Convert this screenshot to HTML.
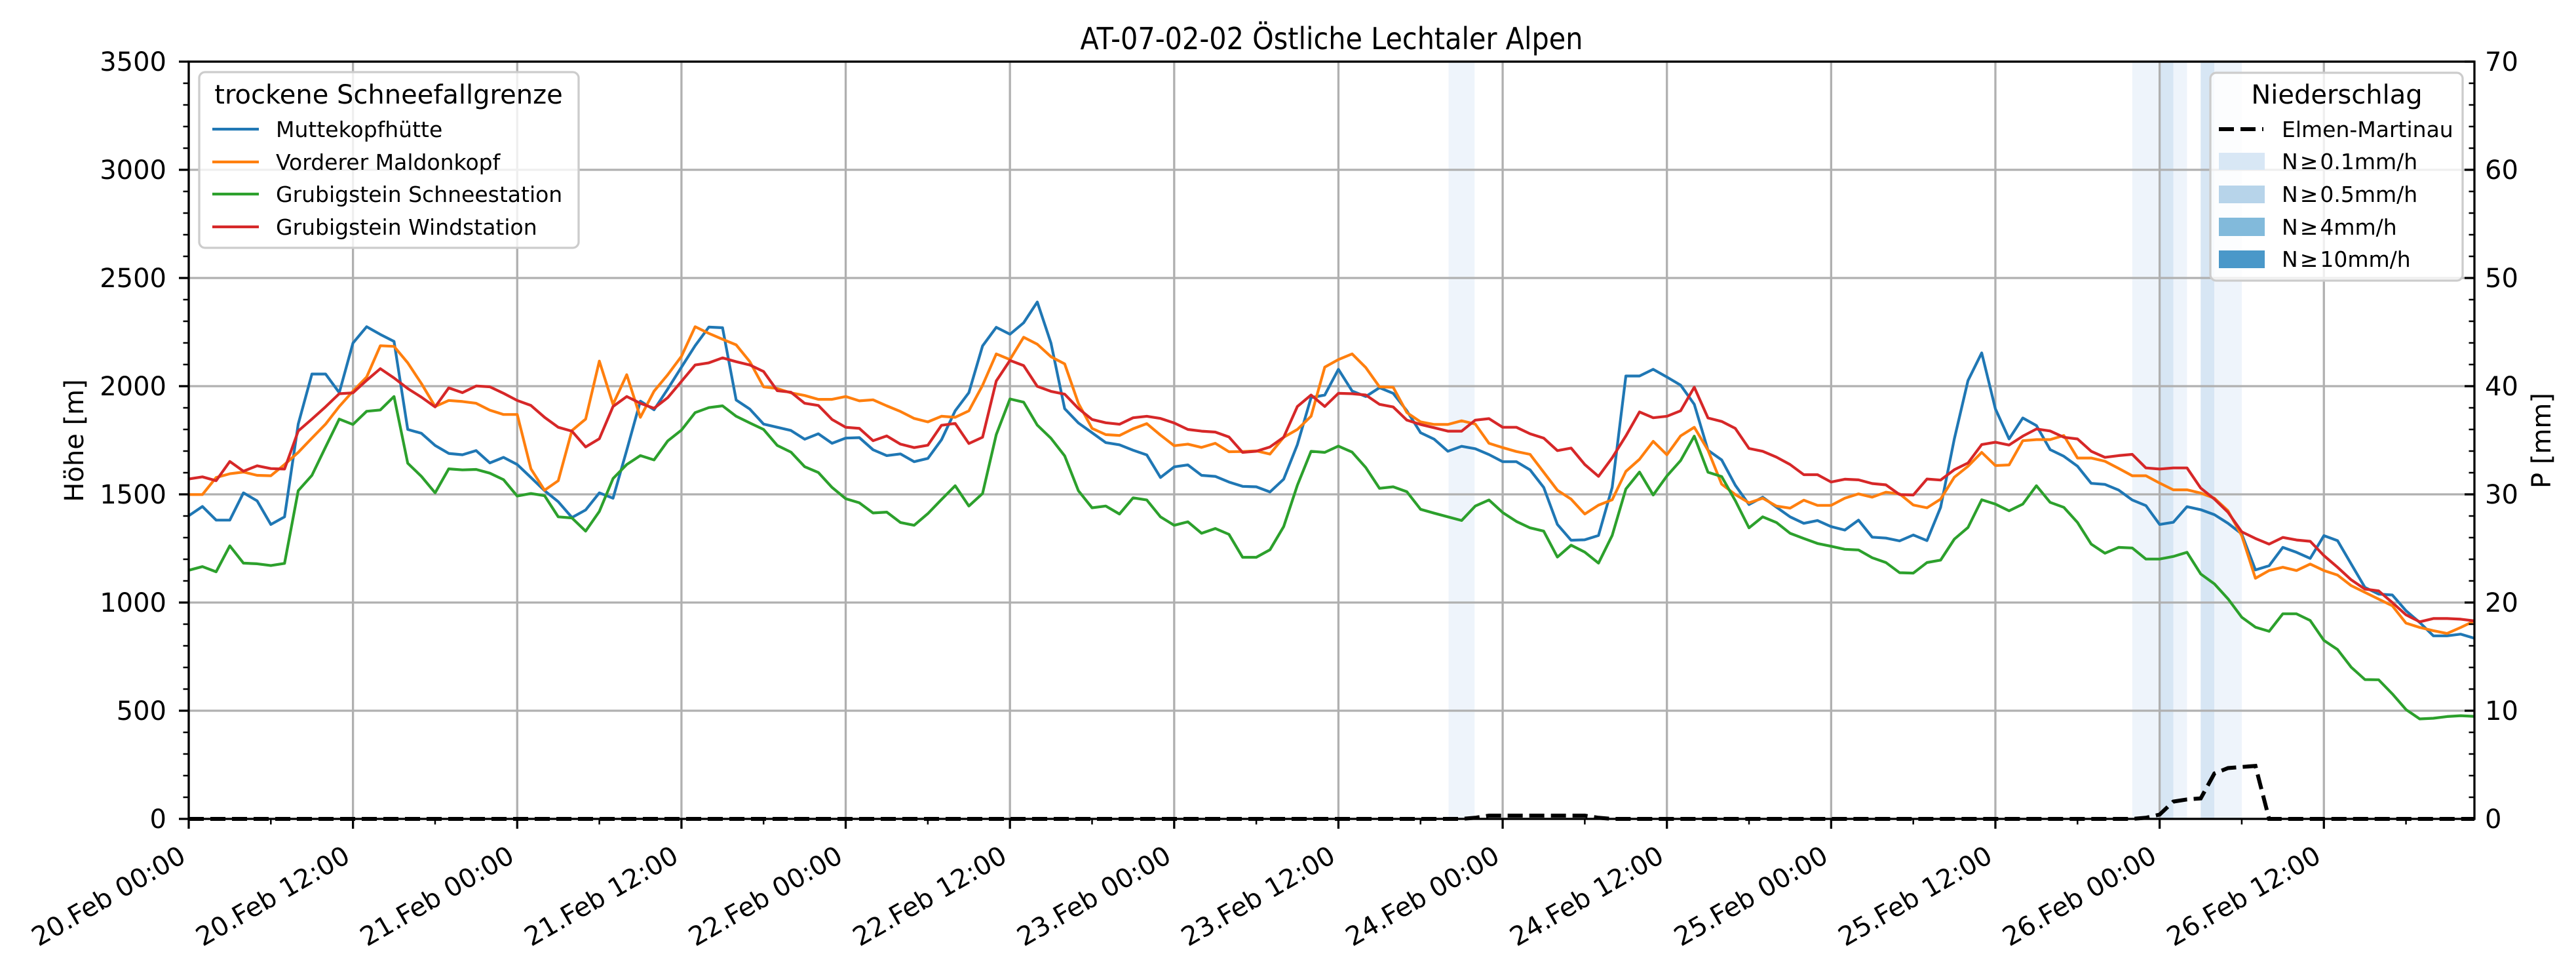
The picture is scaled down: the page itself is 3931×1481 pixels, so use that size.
<!DOCTYPE html>
<html><head><meta charset="utf-8"><style>
html,body{margin:0;padding:0;background:#fff;}
svg{display:block;font-family:"DejaVu Sans","Liberation Sans",sans-serif;}
</style></head><body>
<svg id="chart" width="3931" height="1481" viewBox="0 0 3931 1481" xmlns="http://www.w3.org/2000/svg">
<rect x="0" y="0" width="3931" height="1481" fill="#fff"/>
<g id="bands"></g>
<g id="grid"></g>
<g id="series"></g>
<g id="axes"></g>
<text x="2032" y="75" font-size="46" text-anchor="middle" textLength="767" lengthAdjust="spacingAndGlyphs">AT-07-02-02 Östliche Lechtaler Alpen</text>
<text transform="translate(127,672) rotate(-90)" font-size="40" text-anchor="middle">Höhe [m]</text>
<text transform="translate(3892,672) rotate(-90)" font-size="40" text-anchor="middle">P [mm]</text>
<g>
<rect x="304" y="110" width="579" height="268" rx="9" fill="#fff" fill-opacity="0.8" stroke="#cccccc" stroke-width="3.3"/>
<text x="593" y="158" font-size="40" text-anchor="middle">trockene Schneefallgrenze</text>
<g><line x1="324" y1="197" x2="395" y2="197" stroke="#1f77b4" stroke-width="4.2"/><text x="421" y="209" font-size="33">Muttekopfhütte</text></g>
<g><line x1="324" y1="247" x2="395" y2="247" stroke="#ff7f0e" stroke-width="4.2"/><text x="421" y="259" font-size="33">Vorderer Maldonkopf</text></g>
<g><line x1="324" y1="296" x2="395" y2="296" stroke="#2ca02c" stroke-width="4.2"/><text x="421" y="308" font-size="33">Grubigstein Schneestation</text></g>
<g><line x1="324" y1="346" x2="395" y2="346" stroke="#d62728" stroke-width="4.2"/><text x="421" y="358" font-size="33">Grubigstein Windstation</text></g>
</g>
<g>
<rect x="3373" y="111" width="385" height="317" rx="9" fill="#fff" fill-opacity="0.8" stroke="#cccccc" stroke-width="3.3"/>
<text x="3566" y="158" font-size="40" text-anchor="middle">Niederschlag</text>
<g><line x1="3386" y1="197" x2="3454" y2="197" stroke="#000" stroke-width="6" stroke-dasharray="23,10"/><text x="3482" y="209" font-size="33">Elmen-Martinau</text></g>
<g><rect x="3386" y="233" width="70" height="26" fill="#d8e7f5"/><text x="3482" y="258" font-size="33">N<tspan dx="3">≥</tspan><tspan dx="3">0.1mm/h</tspan></text></g>
<g><rect x="3386" y="283" width="70" height="27" fill="#b7d4ea"/><text x="3482" y="308" font-size="33">N<tspan dx="3">≥</tspan><tspan dx="3">0.5mm/h</tspan></text></g>
<g><rect x="3386" y="332" width="70" height="28" fill="#82badb"/><text x="3482" y="358" font-size="33">N<tspan dx="3">≥</tspan><tspan dx="3">4mm/h</tspan></text></g>
<g><rect x="3386" y="382" width="70" height="27" fill="#4a98c9"/><text x="3482" y="407" font-size="33">N<tspan dx="3">≥</tspan><tspan dx="3">10mm/h</tspan></text></g>
</g>
</svg>
<script>
const xTickLabels = ["20.Feb 00:00","20.Feb 12:00","21.Feb 00:00","21.Feb 12:00","22.Feb 00:00","22.Feb 12:00","23.Feb 00:00","23.Feb 12:00","24.Feb 00:00","24.Feb 12:00","25.Feb 00:00","25.Feb 12:00","26.Feb 00:00","26.Feb 12:00"];
const yTicks = [0,500,1000,1500,2000,2500,3000,3500];
const y2Ticks = [0,10,20,30,40,50,60,70];
const seriesNames = ["Muttekopfhütte","Vorderer Maldonkopf","Grubigstein Schneestation","Grubigstein Windstation"];
const muttekopf = [1401,1444,1381,1381,1507,1470,1361,1396,1825,2056,2056,1970,2199,2275,2239,2207,1800,1782,1726,1689,1683,1702,1645,1671,1638,1578,1517,1466,1393,1428,1507,1482,1704,1931,1891,1987,2088,2187,2273,2270,1936,1894,1825,
1810,1795,1755,1780,1736,1760,1762,1706,1679,1687,1651,1666,1752,1886,1970,2186,2272,2240,2293,2389,2199,1896,1830,1785,1739,1729,1704,1682,1578,1627,1636,1588,1583,1557,1537,1535,1511,1570,1730,1947,1959,
2078,1978,1952,1993,1967,1886,1785,1755,1699,1722,1711,1684,1651,1651,1613,1532,1361,1288,1290,1310,1532,2047,2047,2078,2042,2005,1916,1704,1659,1542,1453,1487,1441,1396,1366,1379,1351,1335,1381,1302,1298,1285,
1312,1286,1440,1756,2026,2154,1895,1756,1853,1818,1707,1676,1630,1551,1546,1520,1474,1448,1361,1371,1443,1429,1406,1366,1317,1151,1170,1255,1232,1204,1309,1286,1178,1070,1039,1035,962,908,846,846,854,835];
const maldonkopf = [1499,1499,1578,1595,1603,1588,1586,1638,1694,1760,1825,1906,1977,2042,2187,2184,2108,2012,1906,1934,1929,1921,1889,1869,1869,1618,1519,1563,1795,1848,2116,1916,2053,1856,1977,2053,2138,2275,2244,2217,2191,2113,1997,
1989,1969,1957,1939,1939,1952,1932,1937,1909,1883,1851,1835,1861,1856,1886,2004,2149,2123,2226,2194,2136,2103,1921,1805,1776,1772,1803,1827,1774,1725,1732,1717,1736,1697,1698,1701,1686,1764,1800,1861,2088,
2123,2149,2086,1997,1995,1878,1835,1823,1823,1840,1825,1736,1716,1698,1685,1602,1519,1478,1409,1450,1475,1606,1662,1745,1683,1770,1810,1704,1547,1499,1461,1482,1446,1436,1473,1449,1449,1482,1502,1487,1510,1502,
1451,1438,1478,1579,1630,1694,1633,1636,1748,1753,1753,1772,1668,1668,1653,1620,1586,1586,1552,1521,1521,1506,1482,1424,1309,1112,1148,1163,1148,1178,1148,1127,1078,1047,1016,985,905,885,870,857,885,915];
const schneestation = [1149,1166,1142,1262,1182,1179,1171,1181,1517,1588,1719,1848,1823,1884,1890,1952,1644,1583,1507,1618,1613,1615,1598,1568,1492,1504,1494,1396,1391,1330,1421,1573,1638,1679,1659,1747,1797,1878,1901,1909,1861,1830,1800,
1726,1695,1628,1601,1532,1480,1461,1414,1418,1370,1357,1411,1476,1540,1446,1504,1776,1941,1926,1820,1759,1678,1517,1438,1446,1409,1484,1474,1396,1357,1373,1320,1342,1315,1209,1209,1244,1351,1542,1699,1694,
1723,1695,1624,1528,1535,1512,1431,1413,1396,1379,1446,1474,1416,1375,1345,1330,1210,1265,1233,1182,1310,1525,1603,1497,1585,1656,1769,1602,1582,1471,1345,1396,1370,1320,1296,1273,1260,1246,1243,1207,1185,1138,
1136,1185,1196,1293,1347,1475,1455,1424,1455,1540,1463,1440,1370,1270,1228,1255,1252,1201,1201,1213,1232,1132,1086,1017,932,886,867,948,948,917,825,783,701,644,643,578,505,462,465,473,477,474];
const windstation = [1571,1581,1563,1652,1607,1632,1619,1617,1793,1848,1905,1965,1969,2027,2081,2038,1989,1949,1904,1992,1970,2001,1997,1967,1934,1911,1856,1810,1792,1719,1757,1906,1952,1921,1898,1947,2022,2098,2108,2131,2113,2098,2068,
1979,1972,1921,1911,1846,1810,1805,1748,1770,1732,1716,1727,1819,1828,1735,1764,2024,2119,2095,1999,1976,1963,1897,1846,1831,1824,1854,1861,1851,1830,1800,1792,1788,1765,1694,1699,1719,1764,1906,1959,1906,
1967,1965,1959,1916,1904,1843,1823,1808,1792,1792,1843,1850,1810,1810,1780,1760,1702,1714,1638,1583,1669,1770,1881,1854,1861,1886,1995,1853,1837,1805,1712,1699,1672,1638,1591,1591,1557,1570,1567,1550,1544,1499,
1497,1571,1566,1614,1645,1730,1741,1728,1769,1802,1793,1764,1756,1699,1671,1679,1685,1622,1617,1622,1622,1529,1478,1417,1327,1296,1270,1301,1289,1283,1217,1163,1105,1062,1054,1000,943,911,926,926,923,915];
const precipHours = [94,95,96,97,98,99,100,101,102,103,143,144,145,146,147,148,149,150,151];
const precipValues = [0.1,0.3,0.3,0.3,0.3,0.3,0.3,0.3,0.3,0.1,0.1,0.4,1.6,1.8,1.9,4.2,4.7,4.8,4.9];
const bandStart = [92.05,142,144,145,147,148];
const bandEnd = [93.95,144,145,146,148,150];
const bandLevel = [0,0,1,0,1,0];

const NS = "http://www.w3.org/2000/svg";
const X0 = 288, X1 = 3776, YT = 94, YB = 1249;
const HOURS = 167;
const xScale = h => X0 + h * (X1 - X0) / HOURS;
const yScale = v => YB - v * (YB - YT) / 3500;
const y2Scale = p => YB - p * (YB - YT) / 70;
function mk(tag, attrs, parent){const e=document.createElementNS(NS,tag);for(const k in attrs)e.setAttribute(k,attrs[k]);parent.appendChild(e);return e;}

const bandsG = document.getElementById('bands');
const bandColors = ["#eef4fb","#d7e6f4"];
for(let i=0;i<bandStart.length;i++){
  const r = mk('rect',{x:xScale(bandStart[i]),y:YT,width:xScale(bandEnd[i])-xScale(bandStart[i]),height:YB-YT,fill:bandColors[bandLevel[i]]},bandsG);
  
  
}

const gridG = document.getElementById('grid');
for(let i=0;i<xTickLabels.length;i++){
  const x = xScale(i*12);
  const l = mk('line',{x1:x,y1:YT,x2:x,y2:YB,stroke:"#b0b0b0","stroke-width":3.3},gridG);
  
  
}
for(const v of yTicks){
  const y = yScale(v);
  const l = mk('line',{x1:X0,y1:y,x2:X1,y2:y,stroke:"#b0b0b0","stroke-width":3.3},gridG);
  
  
}

const seriesG = document.getElementById('series');
const allSeries = [muttekopf, maldonkopf, schneestation, windstation];
const colors = ["#1f77b4","#ff7f0e","#2ca02c","#d62728"];
const seriesKeys = ["muttekopfhuette","vorderer-maldonkopf","grubigstein-schneestation","grubigstein-windstation"];
allSeries.forEach((s,si)=>{
  const pts = s.map((v,i)=>xScale(i).toFixed(1)+','+yScale(v).toFixed(1)).join(' ');
  const pl = mk('polyline',{points:pts,fill:"none",stroke:colors[si],"stroke-width":4.2,"stroke-linejoin":"round"},seriesG);
  
  
});
const precip = new Array(168).fill(0);
precipHours.forEach((h,i)=>{precip[h]=precipValues[i];});
const ppts = precip.map((p,i)=>xScale(i).toFixed(1)+','+y2Scale(p).toFixed(1)).join(' ');
const pl = mk('polyline',{points:ppts,fill:"none",stroke:"#000","stroke-width":6,"stroke-dasharray":"23,10"},seriesG);



const axesG = document.getElementById('axes');
mk('rect',{x:X0,y:YT,width:X1-X0,height:YB-YT,fill:"none",stroke:"#000","stroke-width":3.3},axesG);
for(let v=0; v<=3500; v+=100){
  const y=yScale(v); const major = v%500===0;
  mk('line',{x1:X0,y1:y,x2:X0-(major?15:8.5),y2:y,stroke:"#000","stroke-width":major?3.3:2.5},axesG);
}
for(const v of yTicks){
  const t = mk('text',{x:254,y:yScale(v)+14,"font-size":40,"text-anchor":"end"},axesG);
  t.textContent = v;
  
  
}
for(let p=0; p<=70; p+=2){
  const y=y2Scale(p); const major = p%10===0;
  mk('line',{x1:X1,y1:y,x2:X1-(major?15:8.5),y2:y,stroke:"#000","stroke-width":major?3.3:2.5},axesG);
}
for(const p of y2Ticks){
  const t = mk('text',{x:3792,y:y2Scale(p)+14,"font-size":40},axesG);
  t.textContent = p;
  
  
}
for(let h=0; h<=HOURS; h+=6){
  const x=xScale(h); const major = h%12===0;
  mk('line',{x1:x,y1:YB,x2:x,y2:YB+(major?15:8.5),stroke:"#000","stroke-width":major?3.3:2.5},axesG);
}
xTickLabels.forEach((lab,i)=>{
  const x = xScale(i*12);
  const t = mk('text',{transform:`translate(${x-2},1313) rotate(-30)`,"font-size":40,"text-anchor":"end"},axesG);
  t.textContent = lab;
  
  
});
</script>
</body></html>
